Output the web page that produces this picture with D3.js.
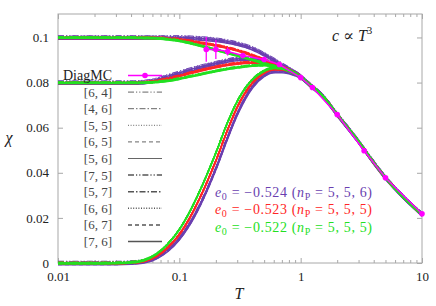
<!DOCTYPE html>
<html>
<head>
<meta charset="utf-8">
<script src="https://cdn.jsdelivr.net/npm/d3@7"></script>
<style>
  body { margin: 0; background: #fff; }
  svg { display: block; }
</style>
</head>
<body>
<div id="chart"></div>
<script>
// temperature grid used for every Pade curve
var temps = [0.01, 0.02, 0.03, 0.04, 0.05, 0.06, 0.07, 0.08, 0.1, 0.12, 0.15, 0.2, 0.25, 0.3,
             0.4, 0.5, 0.6, 0.7, 0.8, 1, 1.2, 1.5, 2, 3, 4, 5, 7, 10];

// branch starting at 0.1
var purpleTop = [0.1, 0.1, 0.1, 0.1, 0.1, 0.1, 0.1, 0.1, 0.1, 0.0999, 0.0996, 0.0990, 0.0982, 0.0973,
                 0.0952, 0.0926, 0.0902, 0.0880, 0.0862, 0.0828, 0.0790, 0.0745, 0.0660, 0.0540, 0.0447, 0.0380, 0.0295, 0.0217];
var redTop = [0.1, 0.1, 0.1, 0.1, 0.1, 0.0999, 0.0998, 0.0996, 0.0992, 0.0986, 0.0977, 0.0966, 0.0955, 0.0944,
              0.0922, 0.0902, 0.0885, 0.0870, 0.0857, 0.0827, 0.0790, 0.0745, 0.0660, 0.0540, 0.0447, 0.0380, 0.0295, 0.0217];
var greenTop = [0.1, 0.1, 0.1, 0.1, 0.0999, 0.0998, 0.0996, 0.0993, 0.0986, 0.0977, 0.0964, 0.0946, 0.0932, 0.0921,
                0.0902, 0.0886, 0.0874, 0.0864, 0.0853, 0.0826, 0.0790, 0.0745, 0.0660, 0.0540, 0.0447, 0.0380, 0.0295, 0.0217];

// branch starting at 0.08
var purpleMid = [0.08, 0.08, 0.08, 0.08, 0.0802, 0.0808, 0.0818, 0.0828, 0.0843, 0.0856, 0.0870, 0.0886, 0.0898, 0.0905,
                 0.0906, 0.0898, 0.0886, 0.0874, 0.0860, 0.0828, 0.0790, 0.0745, 0.0660, 0.0540, 0.0447, 0.0380, 0.0295, 0.0217];
var redMid = [0.08, 0.08, 0.08, 0.08, 0.0801, 0.0805, 0.0811, 0.0818, 0.0830, 0.0842, 0.0855, 0.0870, 0.0880, 0.0886,
              0.0890, 0.0888, 0.0880, 0.0870, 0.0858, 0.0827, 0.0790, 0.0745, 0.0660, 0.0540, 0.0447, 0.0380, 0.0295, 0.0217];
var greenMid = [0.08, 0.08, 0.08, 0.08, 0.0800, 0.0802, 0.0805, 0.0809, 0.0818, 0.0827, 0.0838, 0.0852, 0.0862, 0.0868,
                0.0876, 0.0878, 0.0874, 0.0866, 0.0856, 0.0826, 0.0790, 0.0745, 0.0660, 0.0540, 0.0447, 0.0380, 0.0295, 0.0217];

// branch starting at 0
var purpleLow = [0, 0, 0, 0.0002, 0.0007, 0.0018, 0.0036, 0.0058, 0.0110, 0.0170, 0.0266, 0.0420, 0.0558, 0.0662,
                 0.0783, 0.0834, 0.0851, 0.0852, 0.0847, 0.0825, 0.0790, 0.0745, 0.0660, 0.0540, 0.0447, 0.0380, 0.0295, 0.0217];
var redLow = [0, 0, 0, 0.0003, 0.0009, 0.0023, 0.0044, 0.0070, 0.0128, 0.0195, 0.0298, 0.0455, 0.0592, 0.0692,
              0.0800, 0.0845, 0.0860, 0.0860, 0.0853, 0.0826, 0.0790, 0.0745, 0.0660, 0.0540, 0.0447, 0.0380, 0.0295, 0.0217];
var greenLow = [0, 0, 0.0001, 0.0004, 0.0012, 0.0030, 0.0055, 0.0085, 0.0150, 0.0222, 0.0330, 0.0490, 0.0625, 0.0718,
                0.0815, 0.0853, 0.0866, 0.0864, 0.0856, 0.0826, 0.0790, 0.0745, 0.0660, 0.0540, 0.0447, 0.0380, 0.0295, 0.0217];

// DiagMC reference points
var diagT = [1 / 6, 0.2, 0.25, 1 / 3, 0.5, 2 / 3, 1, 1.25, 2, 10 / 3, 5, 10];
var diagChi = [0.0947, 0.0947, 0.0938, 0.0920, 0.0902, 0.0880, 0.0822, 0.0778, 0.0658, 0.0498, 0.0378, 0.0218];
var diagErr = [0.0055, 0.0042, 0.0018, 0.0010, 0.0006, 0.0004, 0.0002, 0, 0, 0, 0, 0];

var padeLabels = ["[6, 4]", "[4, 6]", "[5, 5]", "[6, 5]", "[5, 6]", "[7, 5]", "[5, 7]", "[6, 6]", "[6, 7]", "[7, 6]"];
var e0Values = ["0.524", "0.523", "0.522"];
var npValues = ["5, 5, 6", "5, 5, 5", "5, 5, 5"];

var xTicks = [0.01, 0.1, 1, 10],
    xTickLabels = ["0.01", "0.1", "1", "10"],
    yTicks = [0, 0.02, 0.04, 0.06, 0.08, 0.1],
    yTickLabels = ["0", "0.02", "0.04", "0.06", "0.08", "0.1"];

// line styles for the ten Pade orders
var dashes = ["6,2,1.2,2,1.2,2", "6,2,1.5,2", "1,1.6", "4,3", null,
              "6,2,1.2,2,1.2,2", "6,2,1.5,2", "1,1.6", "4,3", null];
var widths = [0.9, 0.9, 0.9, 0.9, 0.9, 1.5, 1.5, 1.5, 1.5, 1.5];

var w = 436, h = 306,
    pLeft = 58, pRight = 422, pTop = 14, pBottom = 263,
    axisColor = "#a8a8a8",
    textColor = "#222",
    serif = "'Liberation Serif', 'DejaVu Serif', serif";

var svg = d3.select("#chart")
    .append("svg")
    .attr("width", w)
    .attr("height", h)
    .attr("font-family", serif);

var x = d3.scaleLog().domain([0.01, 10]).range([pLeft, pRight]);
var y = d3.scaleLinear().domain([0, 0.1104]).range([pBottom, pTop]);

var minorX = x.ticks().filter(function (d) { return xTicks.indexOf(d) < 0; });

function styleAxis(g) {
    g.attr("font-family", serif).attr("font-size", 13);
    g.select(".domain").remove();
    g.selectAll("line").attr("stroke", axisColor);
    g.selectAll("text").attr("fill", textColor);
}

// frame
svg.append("rect")
    .attr("x", pLeft).attr("y", pTop)
    .attr("width", pRight - pLeft).attr("height", pBottom - pTop)
    .attr("fill", "none").attr("stroke", axisColor);

// x axes (bottom with labels, top ticks only)
svg.append("g")
    .attr("transform", "translate(0," + pBottom + ")")
    .call(d3.axisBottom(x).tickValues(xTicks).tickSize(-5).tickPadding(9)
        .tickFormat(function (d, i) { return xTickLabels[i]; }))
    .call(styleAxis);
svg.append("g")
    .attr("transform", "translate(0," + pBottom + ")")
    .call(d3.axisBottom(x).tickValues(minorX).tickSize(-3).tickFormat(""))
    .call(styleAxis);
svg.append("g")
    .attr("transform", "translate(0," + pTop + ")")
    .call(d3.axisTop(x).tickValues(xTicks).tickSize(-5).tickFormat(""))
    .call(styleAxis);
svg.append("g")
    .attr("transform", "translate(0," + pTop + ")")
    .call(d3.axisTop(x).tickValues(minorX).tickSize(-3).tickFormat(""))
    .call(styleAxis);

// y axes
svg.append("g")
    .attr("transform", "translate(" + pLeft + ",0)")
    .call(d3.axisLeft(y).tickValues(yTicks).tickSize(-5).tickPadding(9)
        .tickFormat(function (d, i) { return yTickLabels[i]; }))
    .call(styleAxis);
svg.append("g")
    .attr("transform", "translate(" + pRight + ",0)")
    .call(d3.axisRight(y).tickValues(yTicks).tickSize(-5).tickFormat(""))
    .call(styleAxis);

// axis titles
svg.append("text")
    .attr("x", 9).attr("y", 137).attr("dy", "0.35em")
    .attr("text-anchor", "middle")
    .attr("font-size", 16).attr("font-style", "italic").attr("fill", textColor)
    .text("\u03c7");
svg.append("text")
    .attr("x", 239).attr("y", 299)
    .attr("text-anchor", "middle")
    .attr("font-size", 16).attr("font-style", "italic").attr("fill", textColor)
    .text("T");

// curves
var line = d3.line()
    .x(function (d) { return x(d[0]); })
    .y(function (d) { return y(d[1]); })
    .curve(d3.curveMonotoneX);

var families = [
    { color: "#6a3fb0", spread: 1.8, series: [purpleTop, purpleMid, purpleLow] },
    { color: "#ff2626", spread: 1.0, series: [redTop, redMid, redLow] },
    { color: "#22e022", spread: 0.9, series: [greenTop, greenMid, greenLow] }
];

var curves = svg.append("g").attr("fill", "none");

families.forEach(function (fam) {
    fam.series.forEach(function (vals) {
        var pts = temps.map(function (t, i) { return [t, vals[i]]; });
        curves.append("path")
            .attr("d", line(pts))
            .attr("stroke", fam.color)
            .attr("stroke-width", 1.2);
        padeLabels.forEach(function (lab, i) {
            var off = (i / 9 - 0.5) * 2 * fam.spread;
            curves.append("path")
                .attr("d", line(pts))
                .attr("transform", "translate(0," + off + ")")
                .attr("stroke", fam.color)
                .attr("stroke-width", widths[i])
                .attr("stroke-dasharray", dashes[i]);
        });
    });
});

// DiagMC
var magenta = "#ff00ff";
var diagPts = diagT.map(function (t, i) { return [t, diagChi[i], diagErr[i]]; });
svg.append("path")
    .attr("d", d3.line().x(function (d) { return x(d[0]); }).y(function (d) { return y(d[1]); })(diagPts))
    .attr("fill", "none").attr("stroke", magenta).attr("stroke-width", 1.5);
svg.selectAll(".err").data(diagPts.filter(function (d) { return d[2] > 0; }))
    .enter().append("line")
    .attr("x1", function (d) { return x(d[0]); }).attr("x2", function (d) { return x(d[0]); })
    .attr("y1", function (d) { return y(d[1] - d[2]); }).attr("y2", function (d) { return y(d[1] + d[2]); })
    .attr("stroke", magenta).attr("stroke-width", 1.3);
svg.selectAll(".pt").data(diagPts)
    .enter().append("circle")
    .attr("cx", function (d) { return x(d[0]); })
    .attr("cy", function (d) { return y(d[1]); })
    .attr("r", 2.8).attr("fill", magenta);

// legend
var rowY = function (i) { return 75.5 + i * 16.6; };
var legend = svg.append("g");
legend.append("text")
    .attr("x", 112).attr("y", rowY(0)).attr("dy", "0.35em")
    .attr("text-anchor", "end").attr("font-size", 14).attr("fill", textColor)
    .text("DiagMC");
legend.append("line")
    .attr("x1", 128).attr("x2", 162).attr("y1", rowY(0)).attr("y2", rowY(0))
    .attr("stroke", magenta).attr("stroke-width", 1.5);
legend.append("circle")
    .attr("cx", 145).attr("cy", rowY(0)).attr("r", 2.8).attr("fill", magenta);

padeLabels.forEach(function (lab, i) {
    legend.append("text")
        .attr("x", 112).attr("y", rowY(i + 1)).attr("dy", "0.35em")
        .attr("text-anchor", "end").attr("font-size", 13).attr("fill", "#444")
        .text(lab);
    legend.append("line")
        .attr("x1", 128).attr("x2", 162).attr("y1", rowY(i + 1)).attr("y2", rowY(i + 1))
        .attr("stroke", "#555").attr("stroke-width", widths[i])
        .attr("stroke-dasharray", dashes[i]);
});

// energy labels
families.forEach(function (fam, i) {
    var t = svg.append("text")
        .attr("x", 215).attr("y", 192 + i * 17.5).attr("dy", "0.35em")
        .attr("font-size", 14).attr("fill", fam.color)
        .attr("textLength", 157).attr("lengthAdjust", "spacing");
    t.append("tspan").attr("font-style", "italic").text("e");
    t.append("tspan").attr("font-size", 10).attr("dy", 3).text("0");
    t.append("tspan").attr("dy", -3).text(" = \u2212" + e0Values[i] + " (");
    t.append("tspan").attr("font-style", "italic").text("n");
    t.append("tspan").attr("font-size", 10).attr("dy", 3).text("P");
    t.append("tspan").attr("dy", -3).text(" = " + npValues[i] + ")");
});

// model label
var c = svg.append("text")
    .attr("x", 332).attr("y", 41)
    .attr("font-size", 16).attr("fill", textColor);
c.append("tspan").attr("font-style", "italic").text("c");
c.append("tspan").text(" \u221d ");
c.append("tspan").attr("font-style", "italic").text("T");
c.append("tspan").attr("font-size", 11).attr("dy", -7).text("3");
</script>
</body>
</html>
